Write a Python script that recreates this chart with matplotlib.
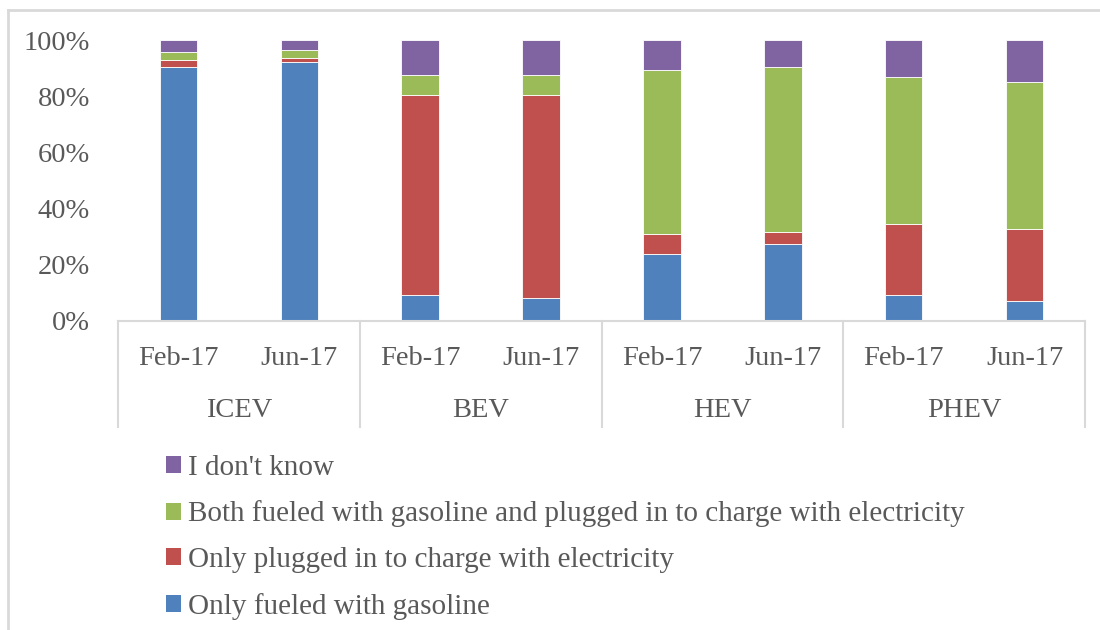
import numpy as np
import matplotlib
matplotlib.use("Agg")
import matplotlib.pyplot as plt
from matplotlib.lines import Line2D
from matplotlib.patches import Patch

vehicles = ["ICEV", "BEV", "HEV", "PHEV"]
periods = ["Feb-17", "Jun-17"]
series = ["Only fueled with gasoline",
          "Only plugged in to charge with electricity",
          "Both fueled with gasoline and plugged in to charge with electricity",
          "I don't know"]
# order of bars: ICEV Feb, ICEV Jun, BEV Feb, BEV Jun, HEV Feb, HEV Jun, PHEV Feb, PHEV Jun
gasoline = [90.3, 92.1, 9.1, 8.1, 23.7, 27.3, 9.1, 7.2]
plugged = [2.6, 1.6, 71.4, 72.4, 7.2, 4.4, 25.3, 25.4]
both = [2.7, 2.7, 7.2, 7.2, 58.5, 58.7, 52.4, 52.5]
dont_know = [4.4, 3.6, 12.3, 12.3, 10.6, 9.6, 13.2, 14.9]
colors = ["#4F81BD", "#C0504D", "#9BBB59", "#8064A2"]

plt.rcParams['font.family'] = ['Liberation Serif', 'DejaVu Serif']
txt = "#595959"
grid = "#D9D9D9"
fs = 20.5

fig = plt.figure(figsize=(11, 6.3), dpi=100)
ax = fig.add_axes([118 / 1100, 1 - 321 / 630, (1085 - 118) / 1100, 281 / 630])

x = np.arange(len(gasoline))
bottom = np.zeros(len(x))
for vals, c, name in zip([gasoline, plugged, both, dont_know], colors, series):
    v = np.array(vals) / 100
    ax.bar(x, v, width=0.31, bottom=bottom, color=c, edgecolor="white", linewidth=0.6, label=name)
    bottom += v

ax.set_xlim(-0.5, len(x) - 0.5)
ax.set_ylim(0, 1)
ax.set_yticks(np.arange(0, 1.01, 0.2))
ax.set_yticklabels([f"{int(round(t * 100))}%" for t in np.arange(0, 1.01, 0.2)])
ax.tick_params(axis="y", length=0, pad=20, labelsize=fs, labelcolor=txt)
ax.tick_params(axis="x", length=0)
ax.set_xticks([])
for s in ["left", "right", "top"]:
    ax.spines[s].set_visible(False)
ax.spines["bottom"].set_color(grid)
ax.spines["bottom"].set_linewidth(1.5)

# two-level category axis
trans = ax.get_xaxis_transform()
for i in range(len(x)):
    ax.text(i, -0.135, periods[i % 2], transform=trans, ha="center", va="center",
            fontsize=fs, color=txt)
for j, name in enumerate(vehicles):
    ax.text(2 * j + 0.5, -0.32, name, transform=trans, ha="center", va="center",
            fontsize=fs, color=txt)
for k in range(len(vehicles) + 1):
    ax.add_line(Line2D([2 * k - 0.5, 2 * k - 0.5], [0, -0.377], transform=trans,
                       color=grid, lw=1.5, clip_on=False))

handles = [Patch(facecolor=c, edgecolor="none") for c in colors][::-1]
fig.legend(handles, series[::-1], loc="upper left", bbox_to_anchor=(151 / 1100, 1 - 440 / 630),
           frameon=False, fontsize=21, labelcolor=txt, handlelength=0.52, handleheight=0.52,
           handletextpad=0.24, labelspacing=0.68, borderpad=0)

# chart frame (left and top edges visible)
fig.add_artist(Line2D([8 / 1100, 8 / 1100], [0, 1 - 10 / 630], transform=fig.transFigure, color=grid, lw=2))
fig.add_artist(Line2D([8 / 1100, 1], [1 - 10 / 630, 1 - 10 / 630], transform=fig.transFigure, color=grid, lw=2))

fig.savefig("out.png", dpi=100)
